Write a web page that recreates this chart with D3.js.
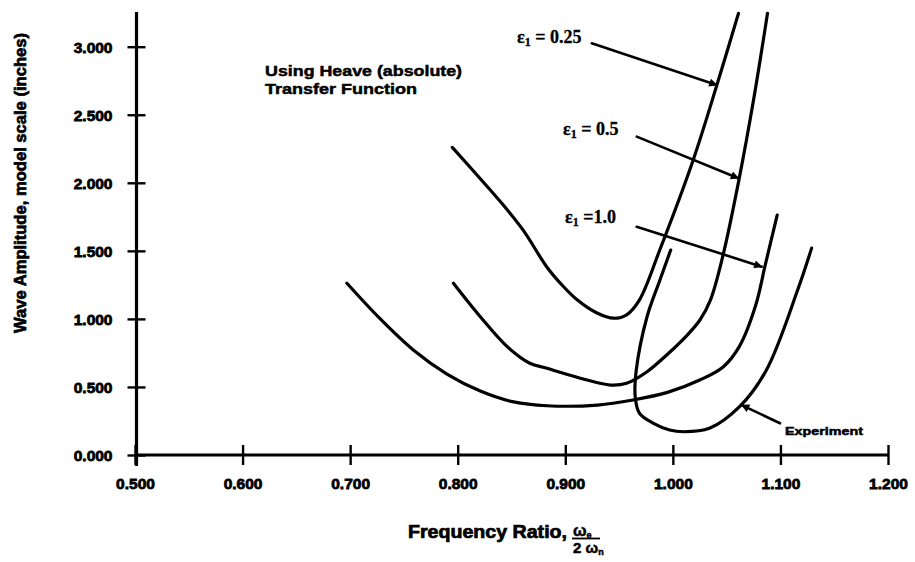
<!DOCTYPE html>
<html><head><meta charset="utf-8">
<script src="https://cdn.jsdelivr.net/npm/d3@7"></script>
<style>body{margin:0;background:#fff}</style>
</head><body>
<svg id="c" width="915" height="562"></svg>
<script>
// ---------- data ----------
const xTickValues = [0.5, 0.6, 0.7, 0.8, 0.9, 1.0, 1.1, 1.2];
const yTickValues = [0, 0.5, 1.0, 1.5, 2.0, 2.5, 3.0];

// [frequency ratio, wave amplitude]
const eps025 = [[0.795,2.26],[0.821,2.03],[0.842,1.84],[0.861,1.65],[0.883,1.38],[0.898,1.24],[0.911,1.14],[0.929,1.045],[0.945,1.005],[0.957,1.03],[0.969,1.14],[0.988,1.51],[1.019,2.17],[1.041,2.72],[1.061,3.245]];
const eps05  = [[0.796,1.262],[0.821,1.016],[0.846,0.796],[0.867,0.674],[0.883,0.637],[0.914,0.564],[0.942,0.514],[0.957,0.527],[0.976,0.612],[0.995,0.74],[1.012,0.87],[1.025,0.99],[1.035,1.14],[1.047,1.48],[1.062,2.045],[1.075,2.608],[1.088,3.245]];
const eps10  = [[0.697,1.262],[0.728,1.00],[0.759,0.77],[0.790,0.595],[0.821,0.47],[0.852,0.39],[0.883,0.362],[0.93,0.367],[0.963,0.404],[0.995,0.46],[1.025,0.551],[1.047,0.649],[1.062,0.80],[1.077,1.10],[1.086,1.40],[1.097,1.763]];
const experiment = [[0.998,1.506],[0.988,1.286],[0.976,1.016],[0.966,0.625],[0.965,0.428],[0.969,0.306],[0.982,0.233],[0.997,0.184],[1.010,0.171],[1.034,0.196],[1.062,0.355],[1.087,0.625],[1.116,1.212],[1.129,1.52]];

const seriesLabels = ["0.25", "0.5", "1.0"];
// label anchor [x, y] and arrow [from x, from y, to x, to y], in data units
const labelAnchors = [[0.8551,3.027],[0.8979,2.351],[0.8997,1.705]];
const labelArrows  = [[0.9246,3.025,1.0408,2.719],[0.9664,2.339,1.0609,2.033],[0.9664,1.677,1.0826,1.384]];
const expLabelAnchor = [1.1043, 0.147];
const expArrow = [1.0996,0.233,1.064,0.367];
const noteAnchor = [0.6209, 2.785];
const noteLines = ["Using Heave (absolute)", "Transfer Function"];

// ---------- drawing ----------
const svg = d3.select("#c");
const x = d3.scaleLinear().domain([0.5, 1.2]).range([135, 888]);
const y = d3.scaleLinear().domain([0, 3]).range([455, 46.7]);
const SANS = "'Liberation Sans', Arial, Helvetica, sans-serif";
const SERIF = "'Liberation Serif', 'Times New Roman', serif";

svg.append("defs").append("marker")
  .attr("id","ah").attr("viewBox","0 0 10 10").attr("refX",9).attr("refY",5)
  .attr("markerWidth",4.2).attr("markerHeight",3.2).attr("markerUnits","strokeWidth")
  .attr("orient","auto")
  .append("path").attr("d","M0,0 L10,5 L0,10 z").attr("fill","#000");

// x axis
const gx = svg.append("g").attr("transform","translate(0,455)")
  .call(d3.axisBottom(x).tickValues(xTickValues).tickFormat(d3.format(".3f")).tickSize(10));
gx.select(".domain").remove();
gx.selectAll(".tick line").attr("y1",-10).attr("y2",10).attr("stroke","#000").attr("stroke-width",2.4);
gx.selectAll(".tick text").attr("y",34).attr("dy",0)
  .attr("font-family",SANS).attr("font-weight","bold").attr("font-size",15.5)
  .attr("stroke","#000").attr("stroke-width",0.8).attr("fill","#000");
svg.append("line").attr("x1",x(0.5)).attr("x2",x(1.2)).attr("y1",y(0)).attr("y2",y(0))
  .attr("stroke","#000").attr("stroke-width",3.2);

// y axis
const gy = svg.append("g").attr("transform","translate(136.5,0)")
  .call(d3.axisLeft(y).tickValues(yTickValues).tickFormat(d3.format(".3f")).tickSize(9));
gy.select(".domain").remove();
gy.selectAll(".tick line").attr("x1",-9).attr("x2",9).attr("stroke","#000").attr("stroke-width",2.4);
gy.selectAll(".tick text").attr("x",-24).attr("dy","0.36em")
  .attr("font-family",SANS).attr("font-weight","bold").attr("font-size",15.5)
  .attr("stroke","#000").attr("stroke-width",0.8).attr("fill","#000");
svg.append("line").attr("x1",136.5).attr("x2",136.5).attr("y1",y(3.255)).attr("y2",466)
  .attr("stroke","#000").attr("stroke-width",3.2);

// axis titles
svg.append("text").attr("transform","translate(26,183) rotate(-90)")
  .attr("text-anchor","middle").attr("font-family",SANS).attr("font-weight","bold")
  .attr("font-size",16.5).attr("stroke","#000").attr("stroke-width",0.7)
  .attr("textLength",300).attr("lengthAdjust","spacingAndGlyphs")
  .text("Wave Amplitude, model scale (inches)");

svg.append("text").attr("x",408).attr("y",538)
  .attr("font-family",SANS).attr("font-weight","bold").attr("font-size",18)
  .attr("stroke","#000").attr("stroke-width",0.7)
  .attr("textLength",159).attr("lengthAdjust","spacingAndGlyphs")
  .text("Frequency Ratio,");
// fraction  ω_e / 2ω_n
const fr = svg.append("g").attr("font-family",SANS).attr("font-weight","bold").attr("fill","#000")
  .attr("stroke","#000").attr("stroke-width",0.5);
const num = fr.append("text").attr("x",573).attr("y",536).attr("font-size",16);
num.append("tspan").text("ω");
num.append("tspan").attr("font-size",9).attr("dy",2).text("e");
fr.append("line").attr("x1",572).attr("x2",600).attr("y1",538.5).attr("y2",538.5)
  .attr("stroke","#000").attr("stroke-width",1.8);
const den = fr.append("text").attr("x",573).attr("y",553).attr("font-size",15);
den.append("tspan").text("2 ω");
den.append("tspan").attr("font-size",9).attr("dy",2).text("n");

// curves
const line = d3.line().x(d => x(d[0])).y(d => y(d[1])).curve(d3.curveCatmullRom.alpha(0.5));
[eps025, eps05, eps10, experiment].forEach(s => {
  svg.append("path").attr("d", line(s)).attr("fill","none").attr("stroke","#000")
    .attr("stroke-width",3.2).attr("stroke-linecap","round").attr("stroke-linejoin","round");
});

// annotation note
const note = svg.append("text").attr("font-family",SANS).attr("font-weight","bold")
  .attr("font-size",15.5).attr("stroke","#000").attr("stroke-width",0.5);
note.append("tspan").attr("x",x(noteAnchor[0])).attr("y",y(noteAnchor[1]))
  .attr("textLength",197).attr("lengthAdjust","spacingAndGlyphs").text(noteLines[0]);
note.append("tspan").attr("x",x(noteAnchor[0])).attr("y",y(noteAnchor[1])+18)
  .attr("textLength",152).attr("lengthAdjust","spacingAndGlyphs").text(noteLines[1]);

// epsilon labels + arrows
seriesLabels.forEach((lab, i) => {
  const t = svg.append("text").attr("x",x(labelAnchors[i][0])).attr("y",y(labelAnchors[i][1]))
    .attr("font-family",SERIF).attr("font-weight","bold").attr("font-size",18)
    .attr("stroke","#000").attr("stroke-width",0.3);
  t.append("tspan").text("ε");
  t.append("tspan").attr("font-size",12).attr("dy",3).text("1");
  t.append("tspan").attr("dy",-3).text(i === 2 ? " =" + lab : " = " + lab);
  const a = labelArrows[i];
  svg.append("line").attr("x1",x(a[0])).attr("y1",y(a[1])).attr("x2",x(a[2])).attr("y2",y(a[3]))
    .attr("stroke","#000").attr("stroke-width",2.6).attr("stroke-linecap","round")
    .attr("marker-end","url(#ah)");
});

// experiment label
svg.append("text").attr("x",x(expLabelAnchor[0])).attr("y",y(expLabelAnchor[1]))
  .attr("font-family",SANS).attr("font-weight","bold").attr("font-size",11.5)
  .attr("stroke","#000").attr("stroke-width",0.5)
  .attr("textLength",78).attr("lengthAdjust","spacingAndGlyphs").text("Experiment");
svg.append("line").attr("x1",x(expArrow[0])).attr("y1",y(expArrow[1])).attr("x2",x(expArrow[2])).attr("y2",y(expArrow[3]))
  .attr("stroke","#000").attr("stroke-width",2.6).attr("stroke-linecap","round")
  .attr("marker-end","url(#ah)");
</script>
</body></html>
